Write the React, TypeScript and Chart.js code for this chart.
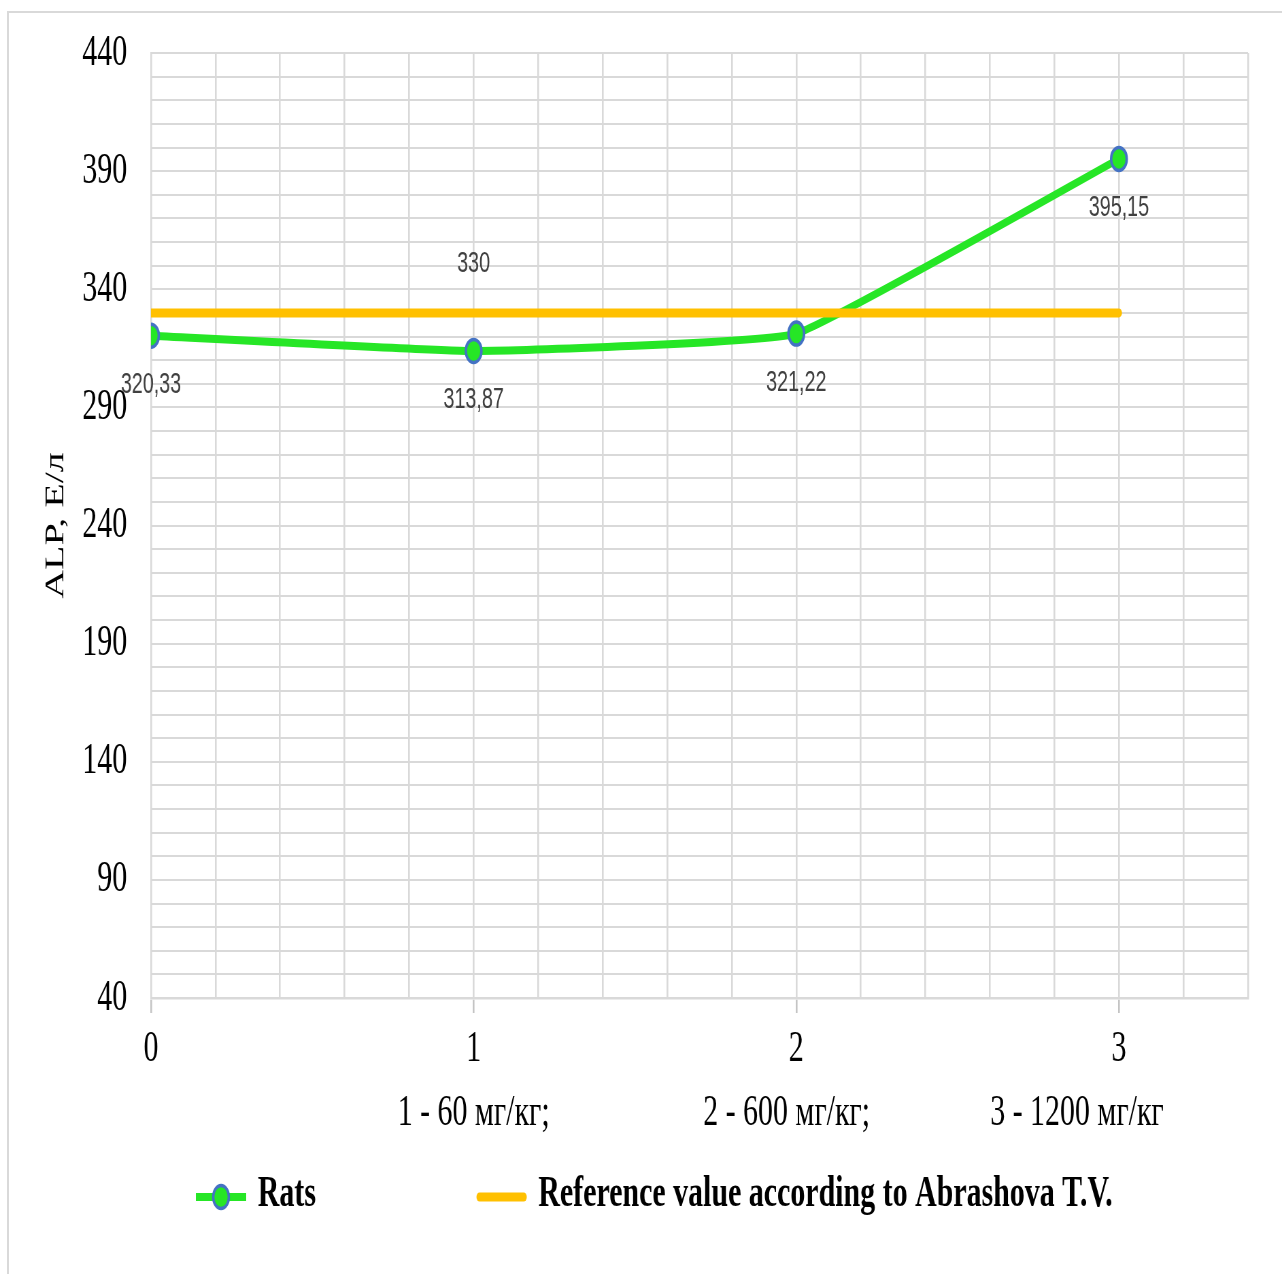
import { useEffect, useRef } from 'react';
import { Chart, registerables } from 'chart.js';

Chart.register(...registerables);

// Dose groups on the horizontal axis
const doses = [0, 1, 2, 3];
// Alkaline phosphatase activity, U/L
const ratsAlp = [320.33, 313.87, 321.22, 395.15];
const referenceAlp = [330, 330, 330, 330];
// Labelled values on the vertical axis (grid runs every 10)
const yTickValues = [40, 90, 140, 190, 240, 290, 340, 390, 440];
// Dose notes printed under the axis
const doseNotes = ['1 - 60 мг/кг;', '2 - 600 мг/кг;', '3 - 1200 мг/кг'];
const seriesNames = ['Rats', 'Reference value according to Abrashova T.V.'];

// The figure is laid out wide and then narrowed horizontally (condensed look)
const PAGE_W = 1282;
const PAGE_H = 1274;
const LAYOUT_W = 1885;
const SQUEEZE = PAGE_W / LAYOUT_W;

const SERIF = '"Liberation Serif", "Times New Roman", serif';
const SANS = '"Liberation Sans", Arial, sans-serif';

const isWhole = (v: number) => Math.abs(v - Math.round(v)) < 1e-6;
const fmt = (v: number) => String(v).replace('.', ',');

const valueLabels = {
  id: 'valueLabels',
  afterDatasetsDraw(chart: any) {
    const ctx = chart.ctx;
    ctx.save();
    ctx.font = `29px ${SANS}`;
    ctx.fillStyle = '#404040';
    ctx.textAlign = 'center';
    ctx.textBaseline = 'middle';
    chart.data.datasets.forEach((ds: any, di: number) => {
      const meta = chart.getDatasetMeta(di);
      const show: number[] | undefined = ds.labelIndices;
      meta.data.forEach((pt: any, i: number) => {
        if (show && !show.includes(i)) return;
        const v = ds.data[i].y;
        ctx.fillText(fmt(v), pt.x, pt.y + ds.labelOffset);
      });
    });
    ctx.restore();
  },
};

const doseNotesPlugin = {
  id: 'doseNotes',
  afterDraw(chart: any, _args: any, opts: any) {
    const ctx = chart.ctx;
    const xs = chart.scales.x;
    ctx.save();
    ctx.font = `44px ${SERIF}`;
    ctx.fillStyle = '#000';
    ctx.textAlign = 'center';
    ctx.textBaseline = 'middle';
    doseNotes.forEach((t, i) => {
      ctx.fillText(t, xs.getPixelForValue(opts.anchors[i]), chart.chartArea.bottom + opts.gap);
    });
    ctx.restore();
  },
};

const seriesKey = {
  id: 'seriesKey',
  afterDraw(chart: any, _args: any, opts: any) {
    const ctx = chart.ctx;
    const y = opts.y;
    let x = opts.startX;
    ctx.save();
    ctx.font = `bold 44px ${SERIF}`;
    ctx.textBaseline = 'middle';
    ctx.textAlign = 'left';
    chart.data.datasets.forEach((ds: any) => {
      ctx.strokeStyle = ds.borderColor;
      ctx.lineWidth = ds.borderWidth;
      ctx.lineCap = ds.pointRadius > 0 ? 'butt' : 'round';
      ctx.beginPath();
      ctx.moveTo(x + (ds.pointRadius > 0 ? 0 : ds.borderWidth / 2), y + 2);
      ctx.lineTo(x + opts.sampleW - (ds.pointRadius > 0 ? 0 : ds.borderWidth / 2), y + 2);
      ctx.stroke();
      if (ds.pointRadius > 0) {
        ctx.beginPath();
        ctx.arc(x + opts.sampleW / 2, y + 2, ds.pointRadius, 0, Math.PI * 2);
        ctx.fillStyle = ds.pointBackgroundColor;
        ctx.fill();
        ctx.lineWidth = ds.pointBorderWidth;
        ctx.strokeStyle = ds.pointBorderColor;
        ctx.stroke();
      }
      ctx.fillStyle = '#000';
      const tx = x + opts.sampleW + opts.textGap;
      ctx.fillText(ds.label, tx, y);
      x = tx + ctx.measureText(ds.label).width + opts.itemGap;
    });
    ctx.restore();
  },
};

export default function App() {
  const canvasRef = useRef<HTMLCanvasElement | null>(null);

  useEffect(() => {
    if (!canvasRef.current) return;
    const chart = new Chart(canvasRef.current, {
      type: 'line',
      data: {
        datasets: [
          {
            label: seriesNames[0],
            data: doses.map((d, i) => ({ x: d, y: ratsAlp[i] })),
            borderColor: '#26E626',
            borderWidth: 8,
            tension: 0.1,
            pointRadius: 11.5,
            pointBackgroundColor: '#26E626',
            pointBorderColor: '#4472C4',
            pointBorderWidth: 3.5,
            order: 1,
            labelOffset: 49,
          } as any,
          {
            label: seriesNames[1],
            data: doses.map((d, i) => ({ x: d, y: referenceAlp[i] })),
            borderColor: '#FFC000',
            borderWidth: 9,
            borderCapStyle: 'round',
            pointRadius: 0,
            order: 0,
            labelIndices: [1],
            labelOffset: -49,
          } as any,
        ],
      },
      options: {
        responsive: true,
        maintainAspectRatio: false,
        animation: false,
        layout: { padding: { top: 53, right: 50, bottom: 0, left: 0 } },
        plugins: {
          legend: { display: false },
          tooltip: { enabled: false },
          doseNotes: { anchors: [1, 1.97, 2.87], gap: 115 },
          seriesKey: { startX: 288, y: 1195, sampleW: 74, textGap: 17, itemGap: 236 },
        } as any,
        scales: {
          x: {
            type: 'linear',
            min: 0,
            max: 3.4,
            ticks: {
              stepSize: 0.2,
              autoSkip: false,
              maxRotation: 0,
              padding: 10,
              color: '#000',
              font: { family: SERIF, size: 44 },
              callback: (v: any) => {
                const n = Math.round(v);
                return isWhole(v) && doses.includes(n) ? String(n) : '';
              },
            },
            grid: {
              color: '#d9d9d9',
              lineWidth: 2.6,
              tickLength: 15,
              tickWidth: 2.6,
              tickColor: (c: any) => (c.tick && isWhole(c.tick.value) ? '#c4c4c4' : 'rgba(0,0,0,0)'),
            },
            border: { color: '#d9d9d9', width: 2.6 },
            afterFit: (s: any) => {
              s.height = PAGE_H - 998;
            },
          },
          y: {
            min: 40,
            max: 440,
            ticks: {
              stepSize: 10,
              autoSkip: false,
              padding: 35,
              color: '#000',
              font: { family: SERIF, size: 44 },
              callback: (v: any) => (yTickValues.includes(v) ? String(v) : ''),
            },
            grid: { color: '#d9d9d9', lineWidth: 2, drawTicks: false },
            border: { color: '#d9d9d9', width: 2 },
            title: {
              display: true,
              text: 'ALP, Е/л',
              color: '#000',
              font: { family: SERIF, size: 40, weight: 'normal' },
              padding: { top: 58, bottom: 0 },
            },
            afterFit: (s: any) => {
              s.width = 222;
              s.paddingTop = 20;
              s.paddingBottom = 20;
            },
          },
        },
      },
      plugins: [valueLabels, doseNotesPlugin, seriesKey],
    });
    return () => chart.destroy();
  }, []);

  return (
    <div
      style={{
        position: 'absolute',
        left: 0,
        top: 0,
        width: PAGE_W,
        height: PAGE_H,
        overflow: 'hidden',
        background: '#fff',
      }}
    >
      <div
        style={{
          position: 'absolute',
          left: 7,
          top: 11,
          width: PAGE_W + 20,
          height: PAGE_H + 20,
          borderLeft: '2px solid #d9d9d9',
          borderTop: '2px solid #d9d9d9',
          boxSizing: 'border-box',
        }}
      />
      <div
        style={{
          position: 'absolute',
          left: 0,
          top: 0,
          width: LAYOUT_W,
          height: PAGE_H,
          transform: `scaleX(${SQUEEZE})`,
          transformOrigin: '0 0',
        }}
      >
        <canvas ref={canvasRef} />
      </div>
    </div>
  );
}
